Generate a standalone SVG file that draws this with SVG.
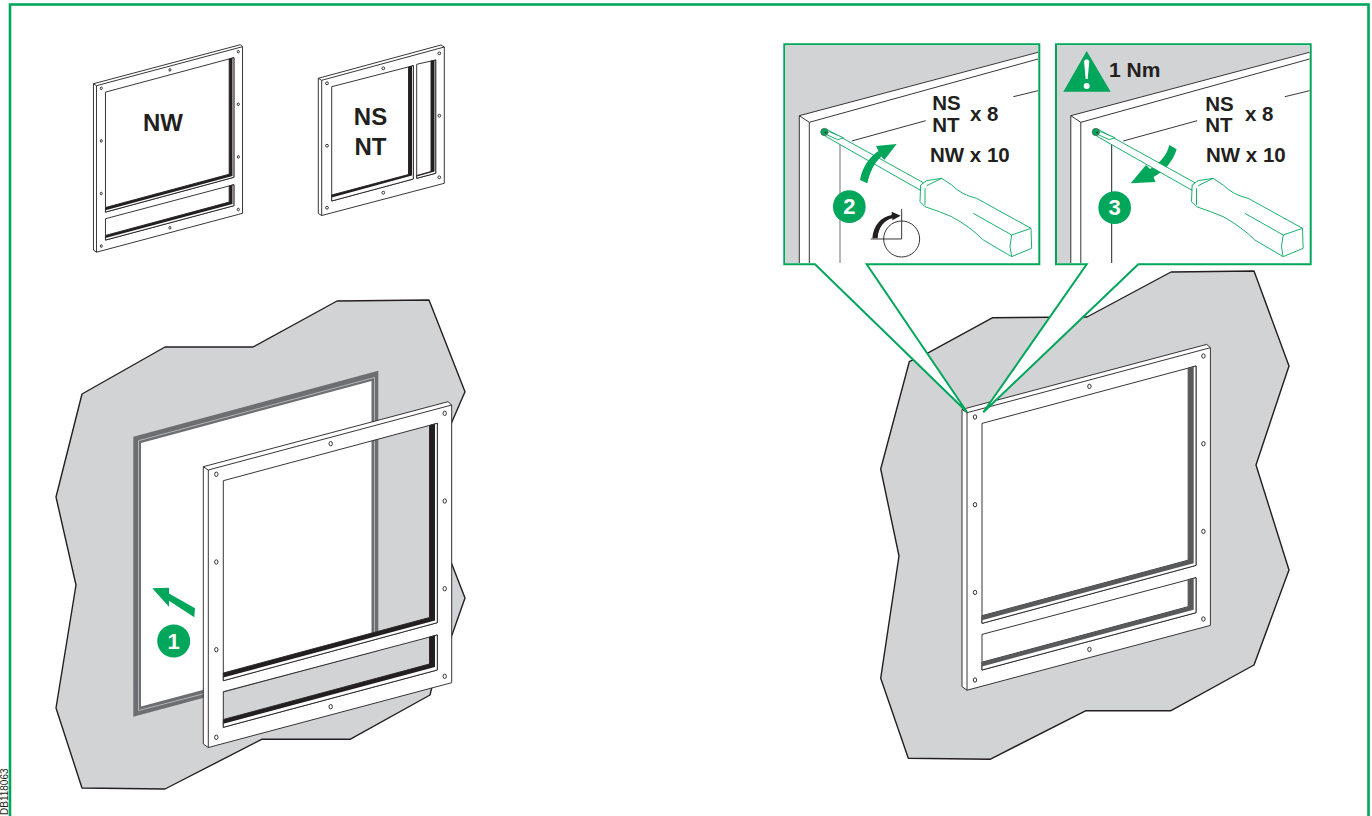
<svg xmlns="http://www.w3.org/2000/svg" xmlns:xlink="http://www.w3.org/1999/xlink" width="1372" height="816" viewBox="0 0 1372 816">
<style>
text{font-family:"Liberation Sans",Arial,sans-serif;font-weight:700;fill:#231f20}
.wall{fill:#d1d3d4;stroke:#231f20;stroke-width:1.4;stroke-linejoin:round}
.ln{fill:none;stroke:#231f20;stroke-width:.9;stroke-linejoin:round;vector-effect:non-scaling-stroke}
.face{fill:#fff;fill-rule:evenodd;stroke:#231f20;stroke-width:.9;stroke-linejoin:round;vector-effect:non-scaling-stroke}
.hole{fill:#fff;stroke:#231f20;stroke-width:.9}
.hole *{vector-effect:non-scaling-stroke}
.box{fill:#fff;stroke:#00a65a;stroke-width:2;stroke-linejoin:miter}
.gfill{fill:#00a65a}
.badge{font-size:22px;fill:#fff;text-anchor:middle}
.dv{fill:#fff;stroke:#00a65a;stroke-width:2.7;stroke-linejoin:round}
</style>
<defs>
<g id="frame-shape">
<path class="face" d="M203.3 466.7L448 401.7L451.7 405V682.7L208.3 747.5L203.3 744ZM223.3 480.7L437.3 423.3V622.7L223.3 680.7ZM223.3 691.7L437.3 635V670L223.3 727.3Z"/>
<path class="ln" d="M203.3 466.7L208.3 470L451.7 405M208.3 470V747.5"/>
<path class="face" d="M429.5 425.5L437.3 423.3V622.7L223.3 680.7V673L429.5 617.5Z"/>
<path fill="currentColor" d="M429.5 425.5L435 424V620.5L223.3 677.5V673L429.5 617.5Z"/>
<path class="face" d="M429.5 637L437.3 635V670L223.3 727.3V719.5L429.5 664Z"/>
<path fill="currentColor" d="M429.5 637L435 635.6V667L223.3 723.7V719.5L429.5 664Z"/>
<g class="hole">
<ellipse cx="216.3" cy="474.3" rx="1.7" ry="2.2"/><ellipse cx="330.7" cy="443.7" rx="1.7" ry="2.2"/><ellipse cx="444.7" cy="413.3" rx="1.7" ry="2.2"/>
<ellipse cx="444.7" cy="501" rx="1.7" ry="2.2"/><ellipse cx="444.7" cy="588.7" rx="1.7" ry="2.2"/><ellipse cx="444.7" cy="676.3" rx="1.7" ry="2.2"/>
<ellipse cx="330.7" cy="706.7" rx="1.7" ry="2.2"/><ellipse cx="216.3" cy="737.3" rx="1.7" ry="2.2"/><ellipse cx="216.3" cy="649.7" rx="1.7" ry="2.2"/><ellipse cx="216.3" cy="562" rx="1.7" ry="2.2"/>
</g>
</g>
<g id="callout-bg">
<path fill="#d1d3d4" d="M785.5 45.5H1038V52L799.3 115.7V263H785.5Z"/>
<path class="ln" d="M1038 52.3L799.3 115.7L809.3 122.3L1038 59M799.3 115.7V263M809.3 122.3V263M851.7 141L925.7 120.7M1013.3 96.7L1038 90.7"/>
</g>
<g id="driver">
<path class="dv" d="M170 283L460 443L450 465L165 303Z"/>
<path class="dv" d="M452 450L470 437L515 430L545 450Q575 480 620 490L783 580L785 640L725 665L640 615Q600 575 545 545Q510 530 465 515L450 500Z"/>
<path class="dv" fill="none" d="M470 452L515 430M465 460V510M783 580L725 600L720 635L725 665M725 600L610 535"/>
<path class="dv" d="M178 290L220 308L203 314L168 298Z"/>
<circle cx="163" cy="291" r="11" fill="#00a65a" stroke="#58595b" stroke-width="2"/>
<circle cx="167" cy="293" r="2.5" fill="#231f20"/>
</g>
</defs>

<rect id="border" x="10" y="4.5" width="1358.5" height="830" fill="#fff" stroke="#00a65a" stroke-width="2.6"/>
<text id="ref-code" transform="translate(7.5 815) rotate(-90)" style="font-size:10px;font-weight:400">DB118063</text>

<g id="wall-left">
<path class="wall" d="M82 394L165 347L253 347L337 301L429 300L465 391.7L451 424V562L465 598L452.7 633L431.7 688L430 695L350 739.3L261.7 739.3L165 789L82 788L56 708L76 585L56 497Z"/>
<path fill="#6d6e71" d="M133.3 436.7L378.3 370.7V651L133.3 716.7Z"/>
<path fill="none" stroke="#d1d3d4" stroke-width=".7" d="M138.5 440.7L374.5 377.5V650M138.5 440.7V710.5L374.5 650"/>
<path fill="#fff" d="M141 443L371.5 381V645L141 706.5Z"/>
</g>

<use id="frame-left" xlink:href="#frame-shape" href="#frame-shape" color="#231f20"/>

<g id="step-1">
<path class="gfill" d="M152.3 588.3L169 587.7V593.5L195 608.3L194.3 617.3L169 600.7V606.7Z"/>
<circle class="gfill" cx="173.7" cy="641" r="16.5"/>
<text class="badge" x="173.7" y="649">1</text>
</g>

<g id="frame-nw">
<use xlink:href="#frame-shape" href="#frame-shape" color="#231f20" transform="translate(-28.5 -196.3) scale(.6)"/>
<text x="163" y="131" style="font-size:24px" text-anchor="middle">NW</text>
</g>

<g id="frame-ns-nt">
<path class="face" d="M318.3 78.3L441 45L444.3 47V183.3L321.7 215.5L318.3 213.5ZM331.7 86.7L413.3 65.7V179L331.7 201ZM416.7 64.3L435.7 60V173.3L416.7 178.3Z"/>
<path class="ln" d="M318.3 78.3L321.7 80.3L444.3 47M321.7 80.3V215.5"/>
<path class="face" d="M408.5 67L413.3 65.7V179L331.7 201V195L408.5 174.5Z"/>
<path fill="#231f20" d="M408.5 67L412 66V175.5L331.7 197.5V195L408.5 174.5Z"/>
<path class="face" d="M431 61L435.7 60V173.3L416.7 178.3V175.5L431 171.5Z"/>
<path fill="#231f20" d="M431 61L434.5 60.3V171.5L416.7 176.5V175.5L431 171.5Z"/>
<g class="hole">
<circle cx="327" cy="83.3" r="1.4"/><circle cx="383.3" cy="68.3" r="1.4"/><circle cx="439.3" cy="53.3" r="1.4"/><circle cx="439.3" cy="115.7" r="1.4"/><circle cx="439.3" cy="177.3" r="1.4"/><circle cx="383.3" cy="192.7" r="1.4"/><circle cx="327" cy="207.7" r="1.4"/><circle cx="327" cy="145.7" r="1.4"/>
</g>
<text x="370.5" y="124.5" style="font-size:24px" text-anchor="middle">NS</text>
<text x="370.5" y="155" style="font-size:24px" text-anchor="middle">NT</text>
</g>

<g id="wall-right">
<path class="wall" d="M909.3 361.7L929 352.3L992.7 317.7L1087 317L1171 272L1254 271L1289 366L1256 465L1289 570L1254 665L1171 710.7L1086 710.7L990 759.3L908.3 758.3L880.7 678.3L899 556L880.7 469Z"/>
<path fill="#fff" d="M982 423.4L1196 366V565.4L982 623.4ZM982 634.4L1196 577.7V612.7L982 670Z"/>
</g>

<use id="frame-right" xlink:href="#frame-shape" href="#frame-shape" color="#58595b" transform="translate(758.7 -57.3)"/>

<g id="callout-2">
<path class="box" d="M866.7 264.3H1039.3V44.3H784.3V264.3H815L967 412Z"/>
<use xlink:href="#callout-bg" href="#callout-bg"/>
<path fill="none" stroke="#6d6e71" stroke-width="1" d="M840 143V263"/>
<g transform="translate(770 35) scale(.33333)">
<circle class="gfill" cx="238" cy="515" r="49"/>
<circle cx="395" cy="612" r="54" fill="none" stroke="#231f20" stroke-width="2.7"/>
<path fill="none" stroke="#231f20" stroke-width="2.7" d="M395 522V612H302"/>
<path fill="#231f20" d="M307 610C310 570 335 545 365 540L365 530L392 542L367 556L367 550C345 555 325 575 323 610Z"/>
</g>
<use xlink:href="#driver" href="#driver" transform="translate(770 35) scale(.33333)"/>
<path class="gfill" d="M860 180C862 168 869 157 878.5 151L876 146L896.7 144L884.3 160L881.5 156.5C874 163 870 172 867.3 183.3Z"/>
<text class="badge" x="849.3" y="214">2</text>
<text x="932.3" y="110" style="font-size:20.5px">NS</text>
<text x="932.3" y="131.7" style="font-size:20.5px">NT</text>
<text x="970" y="121" style="font-size:20.5px">x 8</text>
<text x="930" y="162" style="font-size:20.5px">NW x 10</text>
</g>

<g id="callout-3">
<path class="box" d="M1138.3 264.3H1310.7V44.3H1056V264.3H1086.7L983.3 412.3Z"/>
<use xlink:href="#callout-bg" href="#callout-bg" transform="translate(271.5 0)"/>
<path fill="none" stroke="#231f20" stroke-width="1" d="M1111.7 143V263"/>
<path class="gfill" d="M1169.3 145C1167 155 1160 163 1150 169L1146 165L1130.7 183.3L1155.5 182L1153.5 177C1165 171 1173 161 1176.7 149.3Z"/>
<g transform="translate(1050 35) scale(.33333)">
<circle class="gfill" cx="194" cy="518" r="49"/>
<path class="gfill" d="M110 48L182 170H40Z"/>
<path fill="#fff" d="M102 78Q110 68 118 78L113 132H107Z"/>
<circle cx="110" cy="153" r="9" fill="#fff"/>
</g>
<use xlink:href="#driver" href="#driver" transform="translate(1041.5 35) scale(.33333)"/>
<text class="badge" x="1114.7" y="215">3</text>
<text x="1109" y="76.7" style="font-size:21px">1 Nm</text>
<text x="1205.3" y="111" style="font-size:20.5px">NS</text>
<text x="1205.3" y="131.7" style="font-size:20.5px">NT</text>
<text x="1245" y="120.7" style="font-size:20.5px">x 8</text>
<text x="1206" y="162" style="font-size:20.5px">NW x 10</text>
</g>
</svg>
